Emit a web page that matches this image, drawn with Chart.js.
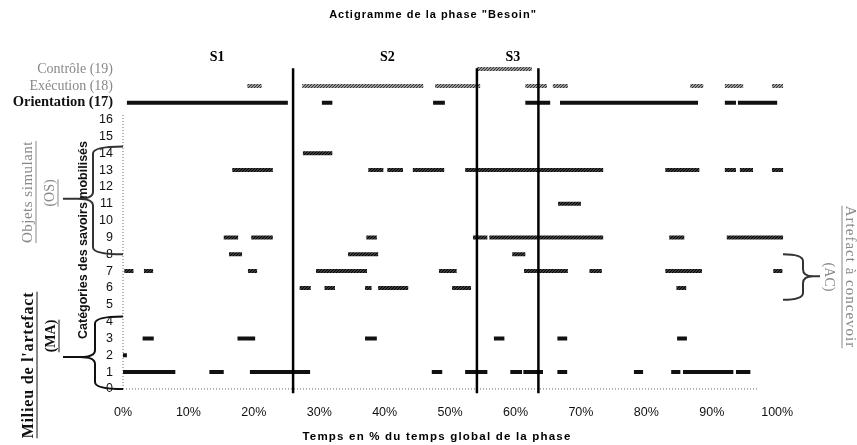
<!DOCTYPE html>
<html>
<head>
<meta charset="utf-8">
<script src="https://cdn.jsdelivr.net/npm/chart.js@4"></script>
<style>
  html, body { margin: 0; padding: 0; background: #fff; }
  #wrap { width: 857px; height: 445px; position: relative; }
</style>
</head>
<body>
<div id="wrap"><canvas id="chart"></canvas></div>
<script>
// actigramme "Besoin" — activity segments per category, time in % of phase

// [1] DATA : segments [start %, end %] per row
const ROW_CONTROLE_19    = [[54.1, 62.5]];
const ROW_EXECUTION_18   = [[19.0, 21.2], [27.4, 45.9], [47.7, 54.6], [61.5, 64.8], [65.7, 68.0], [86.7, 88.7], [92.0, 94.8], [99.2, 100.9]];
const ROW_ORIENTATION_17 = [[0.6, 25.2], [30.4, 32.0], [47.4, 49.2], [61.5, 65.3], [66.8, 87.9], [92.0, 93.7], [94.0, 100.0]];
const ROW_14 = [[27.5, 32.0]];
const ROW_13 = [[16.7, 22.9], [37.5, 39.8], [40.4, 42.8], [44.3, 49.1], [52.3, 73.4], [82.9, 88.1], [92.0, 93.7], [94.3, 96.3], [99.2, 100.9]];
const ROW_11 = [[66.5, 70.0]];
const ROW_9  = [[15.4, 17.6], [19.6, 22.9], [37.2, 38.8], [53.5, 55.7], [56.0, 73.4], [83.5, 85.8], [92.3, 100.9]];
const ROW_8  = [[16.2, 18.2], [34.4, 39.0], [59.5, 61.5]];
const ROW_7  = [[0.2, 1.6], [3.2, 4.6], [19.1, 20.5], [29.5, 37.3], [48.3, 51.0], [61.3, 68.0], [71.3, 73.2], [82.9, 88.5], [99.4, 100.8]];
const ROW_6  = [[27.0, 28.7], [30.8, 32.4], [37.0, 38.0], [39.0, 43.6], [50.3, 53.2], [84.6, 86.1]];
const ROW_3  = [[3.0, 4.7], [17.5, 20.2], [37.0, 38.8], [56.7, 58.3], [66.4, 67.9], [84.7, 86.2]];
const ROW_2  = [[0.0, 0.6]];
const ROW_1  = [[0.0, 8.0], [13.2, 15.4], [19.4, 28.6], [47.2, 48.8], [52.3, 55.7], [59.2, 61.0], [61.2, 64.2], [66.4, 67.9], [78.1, 79.5], [83.8, 85.2], [85.6, 93.3], [93.7, 95.9]];

// session boundaries (%) and session labels
const SESSION_BOUNDS  = [26.0, 54.1, 63.5];
const SESSION_NAMES   = ['S1', 'S2', 'S3'];
const SESSION_LABEL_X = [14.4, 40.4, 59.6];

// axis labels
const X_TICKS = [0, 10, 20, 30, 40, 50, 60, 70, 80, 90, 100];
const Y_TICKS = Array.from({ length: 20 }, (_, i) => i);
const ROW_NAMES = { 17: 'Orientation (17)', 18: 'Exécution (18)', 19: 'Contrôle (19)' };

// [2] STYLE HELPERS
function hatch(fg, bg) {
  const c = document.createElement('canvas');
  c.width = c.height = 3;
  const g = c.getContext('2d');
  g.fillStyle = bg; g.fillRect(0, 0, 3, 3);
  g.fillStyle = fg;
  for (let i = 0; i < 3; i++) g.fillRect(i, 2 - i, 1, 1);
  return g.createPattern(c, 'repeat');
}
const BLACK = '#111';
const DARK  = hatch('#000', '#3a3a3a');
const LIGHT = hatch('#333', '#999');

function segPoints(list, row) {
  const pts = [];
  list.forEach(([a, b]) => {
    pts.push({ x: a, y: row }, { x: b, y: row }, { x: b, y: null });
  });
  return pts;
}
const rowSet = (list, row, color) => ({
  data: segPoints(list, row), borderColor: color, borderWidth: 4,
  pointRadius: 0, spanGaps: false, borderCapStyle: 'butt', order: 2
});

const datasets = [
  rowSet(ROW_CONTROLE_19, 19, LIGHT),
  rowSet(ROW_EXECUTION_18, 18, LIGHT),
  rowSet(ROW_ORIENTATION_17, 17, BLACK),
  rowSet(ROW_14, 14, DARK),
  rowSet(ROW_13, 13, DARK),
  rowSet(ROW_11, 11, DARK),
  rowSet(ROW_9, 9, DARK),
  rowSet(ROW_8, 8, DARK),
  rowSet(ROW_7, 7, DARK),
  rowSet(ROW_6, 6, DARK),
  rowSet(ROW_3, 3, BLACK),
  rowSet(ROW_2, 2, BLACK),
  rowSet(ROW_1, 1, BLACK)
];
SESSION_BOUNDS.forEach(b => datasets.push({
  data: [{ x: b, y: -0.25 }, { x: b, y: 19.05 }],
  borderColor: '#000', borderWidth: 2.5, pointRadius: 0, order: 1
}));

// [3] DECORATIONS
function vtext(ctx, txt, x, y, rot, font, color, underline, spacing) {
  ctx.save();
  ctx.translate(x, y);
  ctx.rotate(rot);
  ctx.font = font;
  ctx.letterSpacing = spacing || '0px';
  ctx.fillStyle = color;
  ctx.textAlign = 'center';
  ctx.textBaseline = 'middle';
  ctx.fillText(txt, 0, 0);
  if (underline) {
    const w = ctx.measureText(txt).width;
    ctx.strokeStyle = color; ctx.lineWidth = 1;
    ctx.beginPath(); ctx.moveTo(-w / 2, 8); ctx.lineTo(w / 2, 8); ctx.stroke();
  }
  ctx.restore();
}

function brace(ctx, xEnd, yTop, yBot, xV, xTip, yTip, xLine, color) {
  const r = 7;
  ctx.save();
  ctx.strokeStyle = color; ctx.lineWidth = 2;
  ctx.beginPath();
  ctx.moveTo(xEnd, yTop);
  ctx.quadraticCurveTo(xV, yTop, xV, yTop + r);
  ctx.lineTo(xV, yTip - r);
  ctx.quadraticCurveTo(xV, yTip, xTip, yTip);
  ctx.quadraticCurveTo(xV, yTip, xV, yTip + r);
  ctx.lineTo(xV, yBot - r);
  ctx.quadraticCurveTo(xV, yBot, xEnd, yBot);
  ctx.moveTo(xTip, yTip); ctx.lineTo(xLine, yTip);
  ctx.stroke();
  ctx.restore();
}

const decor = {
  id: 'decor',
  beforeDatasetsDraw(chart) {
    const { ctx, scales: { x, y } } = chart;
    ctx.save();
    ctx.strokeStyle = '#666'; ctx.lineWidth = 1;
    ctx.setLineDash([1, 2]);
    ctx.beginPath();
    ctx.moveTo(x.getPixelForValue(0), y.getPixelForValue(0));
    ctx.lineTo(x.getPixelForValue(0), y.getPixelForValue(16.3));
    ctx.moveTo(x.getPixelForValue(0), y.getPixelForValue(0));
    ctx.lineTo(x.getPixelForValue(97), y.getPixelForValue(0));
    ctx.stroke();
    ctx.restore();
  },
  afterDraw(chart) {
    const { ctx, scales: { x, y } } = chart;
    const py = v => y.getPixelForValue(v);
    ctx.save();
    // title
    ctx.font = 'bold 11px "Liberation Sans", Arial';
    ctx.letterSpacing = '1px';
    ctx.fillStyle = '#000';
    ctx.textAlign = 'center';
    ctx.textBaseline = 'middle';
    ctx.fillText('Actigramme de la phase "Besoin"', 433, 15);
    // x-axis title
    ctx.font = 'bold 11.5px "Liberation Sans", Arial';
    ctx.letterSpacing = '1.2px';
    ctx.fillText('Temps en % du temps global de la phase', 437, 437);
    ctx.letterSpacing = '0px';
    // session labels
    ctx.font = 'bold 14px "Liberation Serif", "Times New Roman"';
    SESSION_NAMES.forEach((s, i) => ctx.fillText(s, x.getPixelForValue(SESSION_LABEL_X[i]), 57));
    ctx.restore();

    const L = -Math.PI / 2, R = Math.PI / 2;
    const SERIF = '"Liberation Serif", "Times New Roman"';
    vtext(ctx, 'Catégories des savoirs mobilisés', 84, 240, L, 'bold 12.5px "Liberation Sans", Arial', '#111', false);
    vtext(ctx, 'Objets simulant', 28, 192, L, '15px ' + SERIF, '#888', true, '0.5px');
    vtext(ctx, '(OS)', 50, 193, L, '14px ' + SERIF, '#888', true);
    vtext(ctx, "Milieu de l'artefact", 29, 365, L, 'bold 16px ' + SERIF, '#111', true, '0.8px');
    vtext(ctx, '(MA)', 51, 336, L, 'bold 14px ' + SERIF, '#111', true);
    vtext(ctx, 'Artefact à concevoir', 850, 277, R, '15px ' + SERIF, '#888', true, '1px');
    vtext(ctx, '(AC)', 829, 277, R, '14px ' + SERIF, '#888', false);

    const x0 = x.getPixelForValue(0);
    brace(ctx, x0, py(14.4), py(8.0), x0 - 30, x0 - 45, py(11.3), x0 - 60, '#333');
    brace(ctx, x0, py(4.3), py(0), x0 - 28, x0 - 43, py(1.9), x0 - 60, '#111');
    brace(ctx, 783, py(8.0), py(5.3), 803, 813, py(6.7), 820, '#333');
  }
};

// [4] CHART
const tickVal = c => (c && c.tick ? c.tick.value : 0);
new Chart(document.getElementById('chart'), {
  type: 'line',
  data: { datasets },
  options: {
    responsive: true,
    maintainAspectRatio: false,
    animation: false,
    layout: { padding: { left: 0, right: 70, top: 64, bottom: 0 } },
    plugins: { legend: { display: false }, tooltip: { enabled: false } },
    scales: {
      x: {
        type: 'linear', min: 0, max: 101.5,
        grid: { display: false, drawTicks: false },
        border: { display: false },
        afterBuildTicks: s => { s.ticks = X_TICKS.map(v => ({ value: v })); },
        afterFit: s => { s.height = 51; },
        ticks: {
          padding: 11, color: '#111', autoSkip: false, maxRotation: 0,
          font: { family: '"Liberation Sans", Arial', size: 12.5 },
          callback: v => v + '%'
        }
      },
      y: {
        type: 'linear', min: -0.3, max: 19.3,
        grid: { display: false, drawTicks: false },
        border: { display: false },
        afterBuildTicks: s => { s.ticks = Y_TICKS.map(v => ({ value: v })); },
        afterFit: s => { s.width = 123; },
        ticks: {
          padding: 10, autoSkip: false,
          callback: v => ROW_NAMES[v] || String(v),
          color: c => (tickVal(c) > 17 ? '#888' : '#111'),
          font: c => tickVal(c) === 17
            ? { family: '"Liberation Serif", "Times New Roman"', size: 14.5, weight: 'bold' }
            : tickVal(c) > 17
              ? { family: '"Liberation Serif", "Times New Roman"', size: 14 }
              : { family: '"Liberation Sans", Arial', size: 12.5 }
        }
      }
    }
  },
  plugins: [decor]
});
</script>
</body>
</html>
